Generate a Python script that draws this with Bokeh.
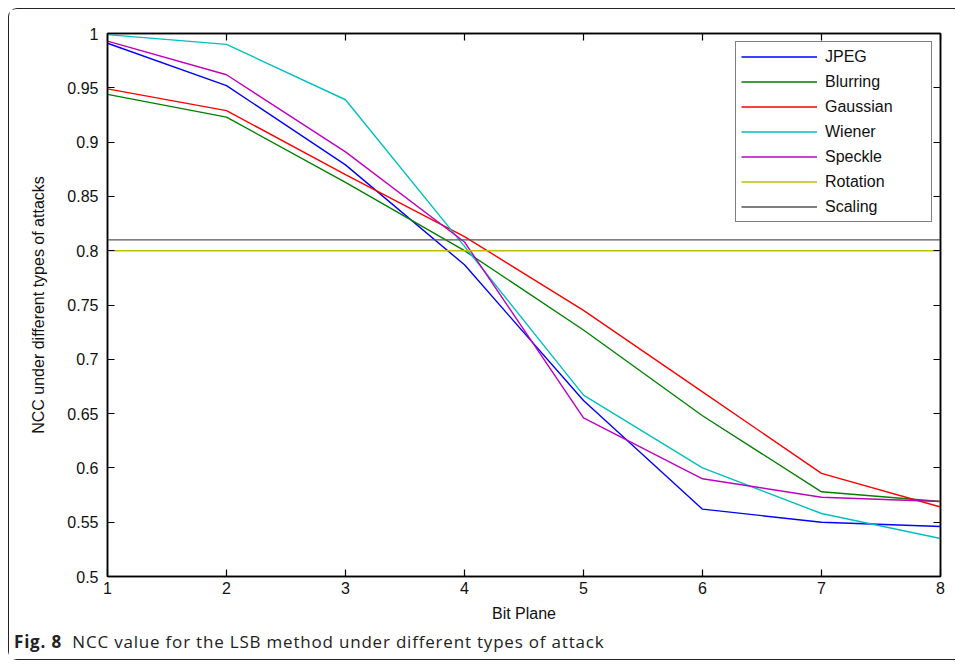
from bokeh.plotting import figure
from bokeh.models import (LinearAxis, FixedTicker, Legend, LegendItem, Range1d, Div,
                          CustomLabelingPolicy)
from bokeh.layouts import column
from bokeh.embed import file_html
from bokeh.resources import INLINE

# ---- data ----
bit_plane = [1, 2, 3, 4, 5, 6, 7, 8]
jpeg     = [0.991, 0.952, 0.879, 0.787, 0.662, 0.562, 0.550, 0.546]
blurring = [0.944, 0.923, 0.863, 0.800, 0.727, 0.648, 0.578, 0.569]
gaussian = [0.949, 0.929, 0.870, 0.813, 0.745, 0.670, 0.595, 0.564]
wiener   = [0.999, 0.990, 0.939, 0.804, 0.667, 0.600, 0.558, 0.535]
speckle  = [0.993, 0.962, 0.891, 0.808, 0.646, 0.590, 0.573, 0.569]
rotation = [0.80, 0.80, 0.80, 0.80, 0.80, 0.80, 0.80, 0.80]
scaling  = [0.81, 0.81, 0.81, 0.81, 0.81, 0.81, 0.81, 0.81]

series_names = ["JPEG", "Blurring", "Gaussian", "Wiener", "Speckle", "Rotation", "Scaling"]
series_values = [jpeg, blurring, gaussian, wiener, speckle, rotation, scaling]
series_colors = ["#0000ff", "#008000", "#ff0000", "#00bfbf", "#bf00bf", "#bfbf00", "#555555"]

x_ticks = [1, 2, 3, 4, 5, 6, 7, 8]
x_tick_labels = ["1", "2", "3", "4", "5", "6", "7", "8"]
y_ticks = [0.5, 0.55, 0.6, 0.65, 0.7, 0.75, 0.8, 0.85, 0.9, 0.95, 1.0]
y_tick_labels = ["0.5", "0.55", "0.6", "0.65", "0.7", "0.75", "0.8", "0.85", "0.9", "0.95", "1"]

x_label = "Bit Plane"
y_label = "NCC under different types of attacks"
caption_bold = "Fig. 8"
caption_text = "NCC value for the LSB method under different types of attack"

FONT = "Liberation Sans"

p = figure(width=946, height=617, output_backend="svg", toolbar_location=None,
           x_range=Range1d(1, 8), y_range=Range1d(0.5, 1.0),
           min_border_left=98, min_border_right=15, min_border_top=24, min_border_bottom=50,
           x_axis_label=x_label, y_axis_label=y_label)
p.grid.visible = False
p.outline_line_color = "black"
p.outline_line_width = 1.5
p.background_fill_color = "white"
p.border_fill_color = "white"

xt = FixedTicker(ticks=x_ticks, minor_ticks=[])
yt = FixedTicker(ticks=y_ticks, minor_ticks=[])

for ax in p.xaxis:
    ax.ticker = xt
    ax.major_label_overrides = {t: l for t, l in zip(x_ticks, x_tick_labels)}
for ax in p.yaxis:
    ax.ticker = yt
    ax.major_label_overrides = {t: l for t, l in zip(y_ticks, y_tick_labels)}

for ax in list(p.xaxis) + list(p.yaxis):
    ax.major_tick_in = 7
    ax.major_tick_out = 0
    ax.minor_tick_in = 0
    ax.minor_tick_out = 0
    ax.axis_line_color = "black"
    ax.axis_line_width = 1.5
    ax.major_tick_line_color = "black"
    ax.major_tick_line_width = 1.2
    ax.major_label_text_font = FONT
    ax.major_label_text_font_size = "16px"
    ax.major_label_text_color = "#111111"
    ax.axis_label_text_font = FONT
    ax.axis_label_text_font_size = "16px"
    ax.axis_label_text_font_style = "normal"
    ax.axis_label_text_color = "#111111"

p.xaxis.major_label_standoff = 5
p.xaxis.axis_label_standoff = 8
p.yaxis.major_label_standoff = 9
p.yaxis.axis_label_standoff = 17

# mirrored tick marks on top and right (no labels)
top = LinearAxis(ticker=xt, major_tick_in=7, major_tick_out=0, minor_tick_in=0, minor_tick_out=0,
                 major_label_policy=CustomLabelingPolicy(code="return new Set()"),
                 major_label_text_font_size="0px", major_label_standoff=0,
                 axis_line_color="black", axis_line_width=1.5, major_tick_line_width=1.2)
right = LinearAxis(ticker=yt, major_tick_in=7, major_tick_out=0, minor_tick_in=0, minor_tick_out=0,
                   major_label_policy=CustomLabelingPolicy(code="return new Set()"),
                   major_label_text_font_size="0px", major_label_standoff=0,
                   axis_line_color="black", axis_line_width=1.5, major_tick_line_width=1.2)
p.add_layout(top, "above")
p.add_layout(right, "right")

items = []
for name, vals, col in zip(series_names, series_values, series_colors):
    r = p.line(bit_plane, vals, line_color=col, line_width=1.4)
    items.append(LegendItem(label=name, renderers=[r]))

legend = Legend(items=items, location="top_right", margin=8, padding=5,
                glyph_width=76, glyph_height=19, label_height=19, label_width=101,
                label_standoff=8, spacing=6,
                label_text_font=FONT, label_text_font_size="16px", label_text_color="#111111",
                border_line_color="black", border_line_width=1.5,
                background_fill_color="white", background_fill_alpha=1.0)
p.add_layout(legend, "center")

cap = Div(text=(f'<div style="padding-top:4px;padding-left:5px;white-space:nowrap;'
                f'letter-spacing:0.8px;line-height:1.36;">'
                f'<b>{caption_bold}</b>&nbsp; {caption_text}</div>'),
          width=946, height=33, margin=0,
          styles={"font-family": "Open Sans", "font-size": "17px", "color": "#222222",
                  "background-color": "white"})

layout = column(p, cap, spacing=0, margin=(8, 0, 0, 8),
                styles={"border-top": "1px solid #222", "border-left": "1px solid #222",
                        "border-bottom": "1px solid #222",
                        "border-top-left-radius": "9px", "border-bottom-left-radius": "9px",
                        "background-color": "white"})

open("out.html", "w").write(file_html(layout, INLINE))
